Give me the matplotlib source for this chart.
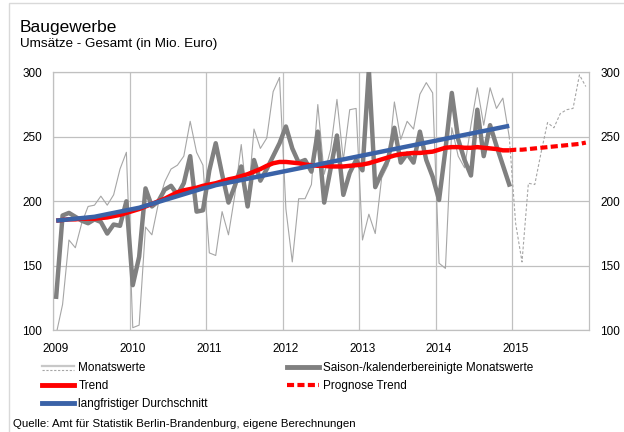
import matplotlib
matplotlib.use('Agg')
import matplotlib.pyplot as plt
import numpy as np
from matplotlib.lines import Line2D
from matplotlib.legend_handler import HandlerBase
from matplotlib.transforms import ScaledTranslation
import matplotlib.patches as mpatches

plt.rcParams['font.family'] = ['Liberation Sans', 'DejaVu Sans']

# ---------------- data (Mio. Euro, monthly, Jan 2009 - Dec 2014) ----------------
year_ticks = [2009, 2010, 2011, 2012, 2013, 2014, 2015]
y_ticks = [100, 150, 200, 250, 300]

monatswerte = [
    97, 120, 170, 164, 183, 196, 197, 204, 197, 205, 225, 238,
    102, 104, 180, 174, 198, 215, 225, 228, 235, 262, 238, 228,
    160, 158, 192, 174, 205, 244, 197, 256, 241, 249, 285, 296,
    194, 153, 202, 202, 213, 275, 221, 240, 279, 232, 271, 272,
    170, 190, 175, 218, 228, 277, 248, 262, 256, 283, 292, 284,
    152, 148, 257, 235, 226, 259, 288, 259, 288, 272, 280, 250,
]
# forecast of monthly values, Jan - Dec 2015
monatswerte_prognose = [183, 153, 214, 213, 238, 261, 257, 268, 271, 272, 298, 289]

saisonbereinigt = [
    126, 189, 191, 188, 185, 183, 186, 184, 175, 182, 181, 200,
    135, 157, 210, 196, 200, 209, 212, 205, 214, 235, 192, 193,
    224, 245, 221, 199, 212, 227, 196, 232, 216, 225, 235, 245,
    258, 241, 230, 232, 223, 254, 199, 225, 251, 205, 222, 232,
    224, 302, 211, 222, 232, 257, 230, 237, 230, 254, 232, 219,
    201, 240, 284, 248, 232, 220, 271, 235, 259, 243, 228, 213,
]

trend = [
    185, 185.5, 186, 186, 186.5, 186.5, 186.5, 187, 187.5, 188.5, 189.5, 191,
    192.5, 194, 196, 198, 200, 202, 204.5, 207, 208.5, 209.5, 210.5, 212,
    213, 214, 215.5, 217, 218, 219.5, 221, 223, 225, 227.5, 229.5, 230.5,
    230.5, 230, 229.5, 228.5, 228, 227.5, 227.5, 227, 227, 227, 227.5, 228,
    228.5, 229.5, 231, 232.5, 234, 235.5, 236.5, 237, 237.5, 237.5, 238, 238.5,
    240, 241.5, 242, 242, 241.5, 241.5, 242, 241.5, 241, 240.5, 239.5, 239.5,
]
# trend forecast, Jan - Dec 2015
trend_prognose = [240, 240, 240.5, 241, 241.5, 242, 242.5, 243, 243.5, 244, 244.5, 245.5]

durchschnitt = [
    185, 185.5, 186, 186.5, 187, 187.5, 188, 189, 190, 191, 192, 193,
    194, 195, 196.5, 198, 199.5, 201, 202.5, 204, 205.5, 207, 208.5, 210,
    211, 212.5, 213.5, 214.5, 215.5, 216.5, 217.5, 218.5, 219.5, 220.5, 221.5, 222.5,
    223.5, 224.5, 225.5, 226.5, 227.5, 228.5, 229.5, 230.5, 231.5, 232.5, 233.5, 234.5,
    235.5, 236.5, 237.5, 238.5, 239.5, 240.5, 241.5, 242.5, 243.5, 244.5, 245.5, 246.5,
    247.5, 248.5, 249.5, 250.5, 251.5, 252.5, 253.5, 254.5, 255.5, 256.5, 257.5, 258.5,
]

labels = ['Monatswerte', 'Saison-/kalenderbereinigte Monatswerte', 'Trend',
          'Prognose Trend', 'langfristiger Durchschnitt']
source = 'Quelle: Amt für Statistik Berlin-Brandenburg, eigene Berechnungen'

# ---------------- styles ----------------
C_THIN = '#a6a6a6'
C_THICK = '#808080'
C_RED = '#ff0000'
C_BLUE = '#3a62a7'
C_GRID = '#c0c0c0'

W, H = 624, 432
fig = plt.figure(figsize=(W / 100, H / 100), dpi=100)

# outer frame of the chart object
fig.add_artist(mpatches.Rectangle((9 / W, -0.2), 1.2, 1.2 - 3 / H, transform=fig.transFigure,
                                  fill=False, edgecolor='#d9d9d9', lw=1.0, clip_on=False))

ax = fig.add_axes([53 / W, 1 - 330.3 / H, 536 / W, 258 / H])

n = len(monatswerte)
x = 2009 + (np.arange(n) + 0.5) / 12
xp = 2009 + (np.arange(n - 1, n + 12) + 0.5) / 12

ax.plot(x, monatswerte, color=C_THIN, lw=0.8, zorder=3)
ax.plot(xp, [monatswerte[-1]] + monatswerte_prognose, color=C_THIN, lw=0.8,
        ls=(0, (2.5, 1.8)), zorder=3)
ax.plot(x, saisonbereinigt, color=C_THICK, lw=3.2, zorder=4, solid_joinstyle='round')
ax.plot(x, trend, color=C_RED, lw=3.2, zorder=5, solid_capstyle='butt')
ax.plot(xp, [trend[-1]] + trend_prognose, color=C_RED, lw=3.0,
        ls=(0, (1.7, 0.8)), zorder=5)
ax.plot(x, durchschnitt, color=C_BLUE, lw=3.2, zorder=6, solid_capstyle='butt')

ax.set_xlim(2009, 2016)
ax.set_ylim(100, 300)
ax.set_xticks(year_ticks)
ax.set_xticklabels([str(y) for y in year_ticks])
ax.set_yticks(y_ticks)
ax.set_yticklabels([str(v) for v in y_ticks])
ax.tick_params(axis='both', length=0, labelsize=8.5, colors='black')
ax.tick_params(axis='y', pad=8, labelright=True)
ax.tick_params(axis='x', pad=9)
for lbl in ax.get_xticklabels():
    lbl.set_transform(lbl.get_transform() + ScaledTranslation(3 / 100, 0, fig.dpi_scale_trans))
ax.grid(True, color=C_GRID, lw=0.9)
ax.set_axisbelow(True)
for sp in ax.spines.values():
    sp.set_color(C_GRID)
    sp.set_linewidth(0.9)

# titles
fig.text(20 / W, 1 - 32 / H, 'Baugewerbe', fontsize=12.5, va='baseline', ha='left')
fig.text(20 / W, 1 - 47 / H, 'Umsätze - Gesamt (in Mio. Euro)', fontsize=9.7,
         va='baseline', ha='left')
fig.text(13 / W, 1 - 427 / H, source, fontsize=8.25, va='baseline', ha='left')


# legend
class DoubleLine(HandlerBase):
    def create_artists(self, legend, orig_handle, xdescent, ydescent, width, height,
                       fontsize, trans):
        yc = height / 2 - ydescent
        x0, x1 = -xdescent, width - xdescent
        a = Line2D([x0, x1], [yc + 0.8, yc + 0.8], color='#c8c8c8', lw=1.6)
        b = Line2D([x0, x1], [yc - 2.2, yc - 2.2], color='#a6a6a6', lw=0.8,
                   ls=(0, (2, 1.5)))
        a.set_transform(trans)
        b.set_transform(trans)
        return [a, b]


h_month = Line2D([], [], color='#c8c8c8')
h_thick = Line2D([], [], color=C_THICK, lw=3.5)
h_trend = Line2D([], [], color=C_RED, lw=3.5)
h_prog = Line2D([], [], color=C_RED, lw=3.0, ls=(0, (1.7, 0.8)))
h_blue = Line2D([], [], color=C_BLUE, lw=3.5)

common = dict(frameon=False, fontsize=8.5, handlelength=2.75, handletextpad=0.33,
              labelspacing=0.5, borderpad=0, borderaxespad=0, loc='upper left')
leg1 = fig.legend([h_month, h_trend, h_blue], [labels[0], labels[2], labels[4]],
                  bbox_to_anchor=(42 / W, 1 - 362 / H),
                  handler_map={h_month: DoubleLine()}, **common)
leg2 = fig.legend([h_thick, h_prog], [labels[1], labels[3]],
                  bbox_to_anchor=(287 / W, 1 - 362 / H), **common)

fig.savefig('out.png', dpi=100)
